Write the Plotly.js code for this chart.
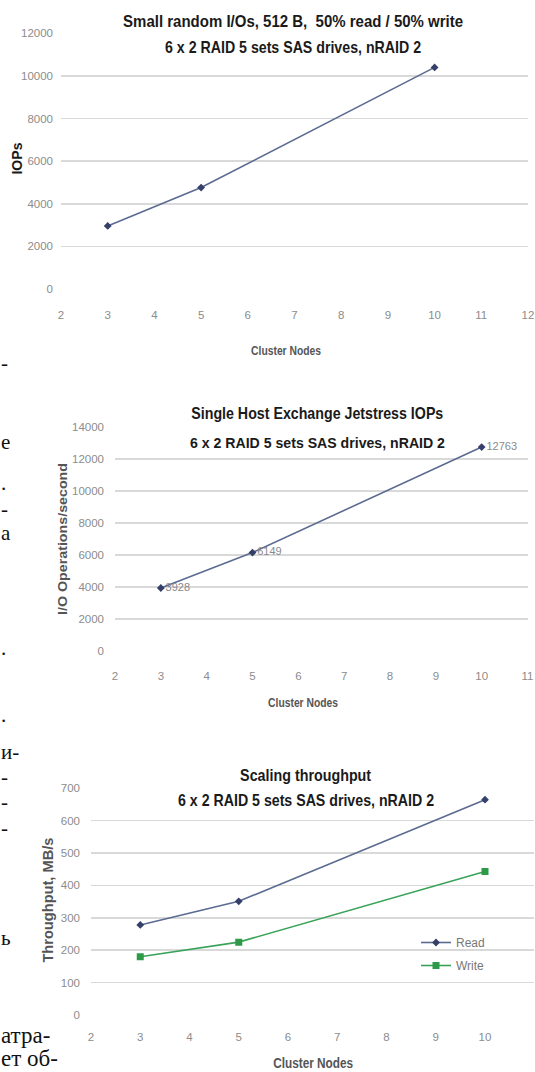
<!DOCTYPE html>
<html>
<head>
<meta charset="utf-8">
<script src="https://cdn.plot.ly/plotly-3.0.1.min.js"></script>
<style>
html,body{margin:0;padding:0;background:#fff;overflow:hidden;}
#chart{width:535px;height:1072px;}
</style>
</head>
<body>
<div id="chart"></div>
<script>
// ---- data ----
const nodes = [3, 5, 10];
const smallIOPs = [2960, 4760, 10400];
const jetstressIOPs = [3928, 6149, 12763];
const readMBs = [278, 351, 665];
const writeMBs = [180, 225, 443];
const chart1Title = ["Small random I/Os, 512 B,  50% read / 50% write", "6 x 2 RAID 5 sets SAS drives, nRAID 2"];
const chart2Title = ["Single Host Exchange Jetstress IOPs", "6 x 2 RAID 5 sets SAS drives, nRAID 2"];
const chart3Title = ["Scaling throughput", "6 x 2 RAID 5 sets SAS drives, nRAID 2"];
const xTitle = "Cluster Nodes";
const yTitles = ["IOPs", "I/O Operations/second", "Throughput, MB/s"];
const seriesNames = ["Read", "Write"];
const marginText = ["-", "е", ".", "-", "а", ".", ".", "и-", "-", "-", "-", "ь", "атра-", "ет об-"];

// ---- styling / layout ----
const W = 535, H = 1072;
const px = x => x / W;
const py = y => 1 - y / H;
const SANS = "'Liberation Sans', Arial, sans-serif";
const SERIF = "'Liberation Serif', 'DejaVu Serif', serif";
const blue = '#5b6b91', blueMk = '#34406a', green = '#3aa35a', greenMk = '#2e9a48';
const grid = '#d9d9d9', tickCol = '#8c8c8c';

function xa(domain, range, anchor, standoff) {
  return {domain: domain, range: range, anchor: anchor, dtick: 1, tick0: 0, showgrid: false, zeroline: false,
    showline: false, ticks: '', ticklabelstandoff: standoff,
    tickfont: {family: SANS, size: 11.5, color: tickCol}, fixedrange: true};
}
function ya(domain, range, anchor, dtick, standoff) {
  return {domain: domain, range: range, anchor: anchor, dtick: dtick, tick0: 0, showgrid: true, gridcolor: grid, gridwidth: 1.5,
    zeroline: false, showline: false, ticks: '', tickformat: 'd', ticklabelstandoff: standoff,
    tickfont: {family: SANS, size: 11.5, color: tickCol}, fixedrange: true};
}

const traces = [
  {x: nodes, y: smallIOPs, xaxis: 'x', yaxis: 'y', mode: 'lines+markers', showlegend: false,
   line: {color: blue, width: 1.6}, marker: {symbol: 'diamond', size: 6, color: blueMk}},
  {x: nodes, y: jetstressIOPs, xaxis: 'x2', yaxis: 'y2', mode: 'lines+markers+text', showlegend: false,
   text: jetstressIOPs.map(String), textposition: 'middle right', cliponaxis: false,
   textfont: {family: SANS, size: 11, color: '#8a8a8a'},
   line: {color: blue, width: 1.6}, marker: {symbol: 'diamond', size: 6, color: blueMk}},
  {x: nodes, y: readMBs, xaxis: 'x3', yaxis: 'y3', mode: 'lines+markers', name: seriesNames[0], legendgroup: 'r',
   line: {color: blue, width: 1.6}, marker: {symbol: 'diamond', size: 6, color: blueMk}},
  {x: nodes, y: writeMBs, xaxis: 'x3', yaxis: 'y3', mode: 'lines+markers', name: seriesNames[1], legendgroup: 'w',
   line: {color: green, width: 1.6}, marker: {symbol: 'square', size: 7, color: greenMk}}
];

const ann = [];
const squeeze = [];   // target rendered width per annotation (condensed look)
function t(text, x, y, font, opts, width) {
  ann.push(Object.assign({text: text, x: px(x), y: py(y), xref: 'paper', yref: 'paper', showarrow: false,
    xanchor: 'center', yanchor: 'middle', font: font}, opts || {}));
  squeeze.push(width || null);
}
const titleFont = {family: SANS, size: 16.5, color: '#1a1a1a', weight: 'bold'};
t(chart1Title[0], 293, 21, titleFont, null, 340);
t(chart1Title[1], 293, 47, titleFont, null, 256);
t(chart2Title[0], 317.5, 413, titleFont, null, 252);
t(chart2Title[1], 317.5, 442, Object.assign({}, titleFont, {size: 15}), null, 255);
t(chart3Title[0], 306, 775, titleFont, null, 131);
t(chart3Title[1], 306, 800, titleFont, null, 256);

t(xTitle, 286, 350, {family: SANS, size: 13, color: '#555', weight: 'bold'}, null, 70);
t(xTitle, 303, 702, {family: SANS, size: 13, color: '#555', weight: 'bold'}, null, 70);
t(xTitle, 313, 1063, {family: SANS, size: 14.5, color: '#555', weight: 'bold'}, null, 80);

t(yTitles[0], 16.5, 159, {family: SANS, size: 14, color: '#1a1a1a', weight: 'bold'}, {textangle: -90}, 32);
t(yTitles[1], 62, 539, {family: SANS, size: 13.5, color: '#555', weight: 'bold'}, {textangle: -90}, 152);
t(yTitles[2], 48, 900, {family: SANS, size: 14, color: '#555', weight: 'bold'}, {textangle: -90}, 125);

// cut-off body text of the neighbouring magazine column (left margin)
const mY = [363, 442, 483, 509, 533, 648, 715, 752, 777, 802, 828, 938, 1035, 1058];
marginText.forEach((s, i) => t(s, 0, mY[i], {family: SERIF, size: s.length > 2 ? 23 : 21, color: '#111'},
  {xanchor: 'left', borderpad: 0}));

const layout = {
  width: W, height: H, margin: {l: 0, r: 0, t: 0, b: 0}, paper_bgcolor: '#fff', plot_bgcolor: '#fff',
  xaxis: xa([px(61), px(528)], [2, 12], 'y', 17),
  yaxis: ya([py(289), py(33.3)], [0, 12000], 'x', 2000, 7),
  xaxis2: xa([px(115), px(527.5)], [2, 11], 'y2', 17),
  yaxis2: ya([py(650.7), py(427.3)], [0, 14000], 'x2', 2000, 10),
  xaxis3: xa([px(91), px(534.25)], [2, 11], 'y3', 13),
  yaxis3: ya([py(1015), py(788.3)], [0, 700], 'x3', 100, 10),
  legend: {x: px(416), y: py(928), xanchor: 'left', yanchor: 'top', bgcolor: 'rgba(255,255,255,0)',
    font: {family: SANS, size: 12, color: '#777'}, tracegroupgap: 4},
  annotations: ann,
  showlegend: true
};

Plotly.newPlot('chart', traces, layout, {displayModeBar: false, staticPlot: true}).then(gd => {
  gd.querySelectorAll('g.annotation').forEach(g => {
    const i = +g.getAttribute('data-index');
    const w = squeeze[i];
    const txt = g.querySelector('text.annotation-text');
    if (w && txt) {
      txt.setAttribute('textLength', w);
      txt.setAttribute('lengthAdjust', 'spacingAndGlyphs');
    }
  });
});
</script>
</body>
</html>
